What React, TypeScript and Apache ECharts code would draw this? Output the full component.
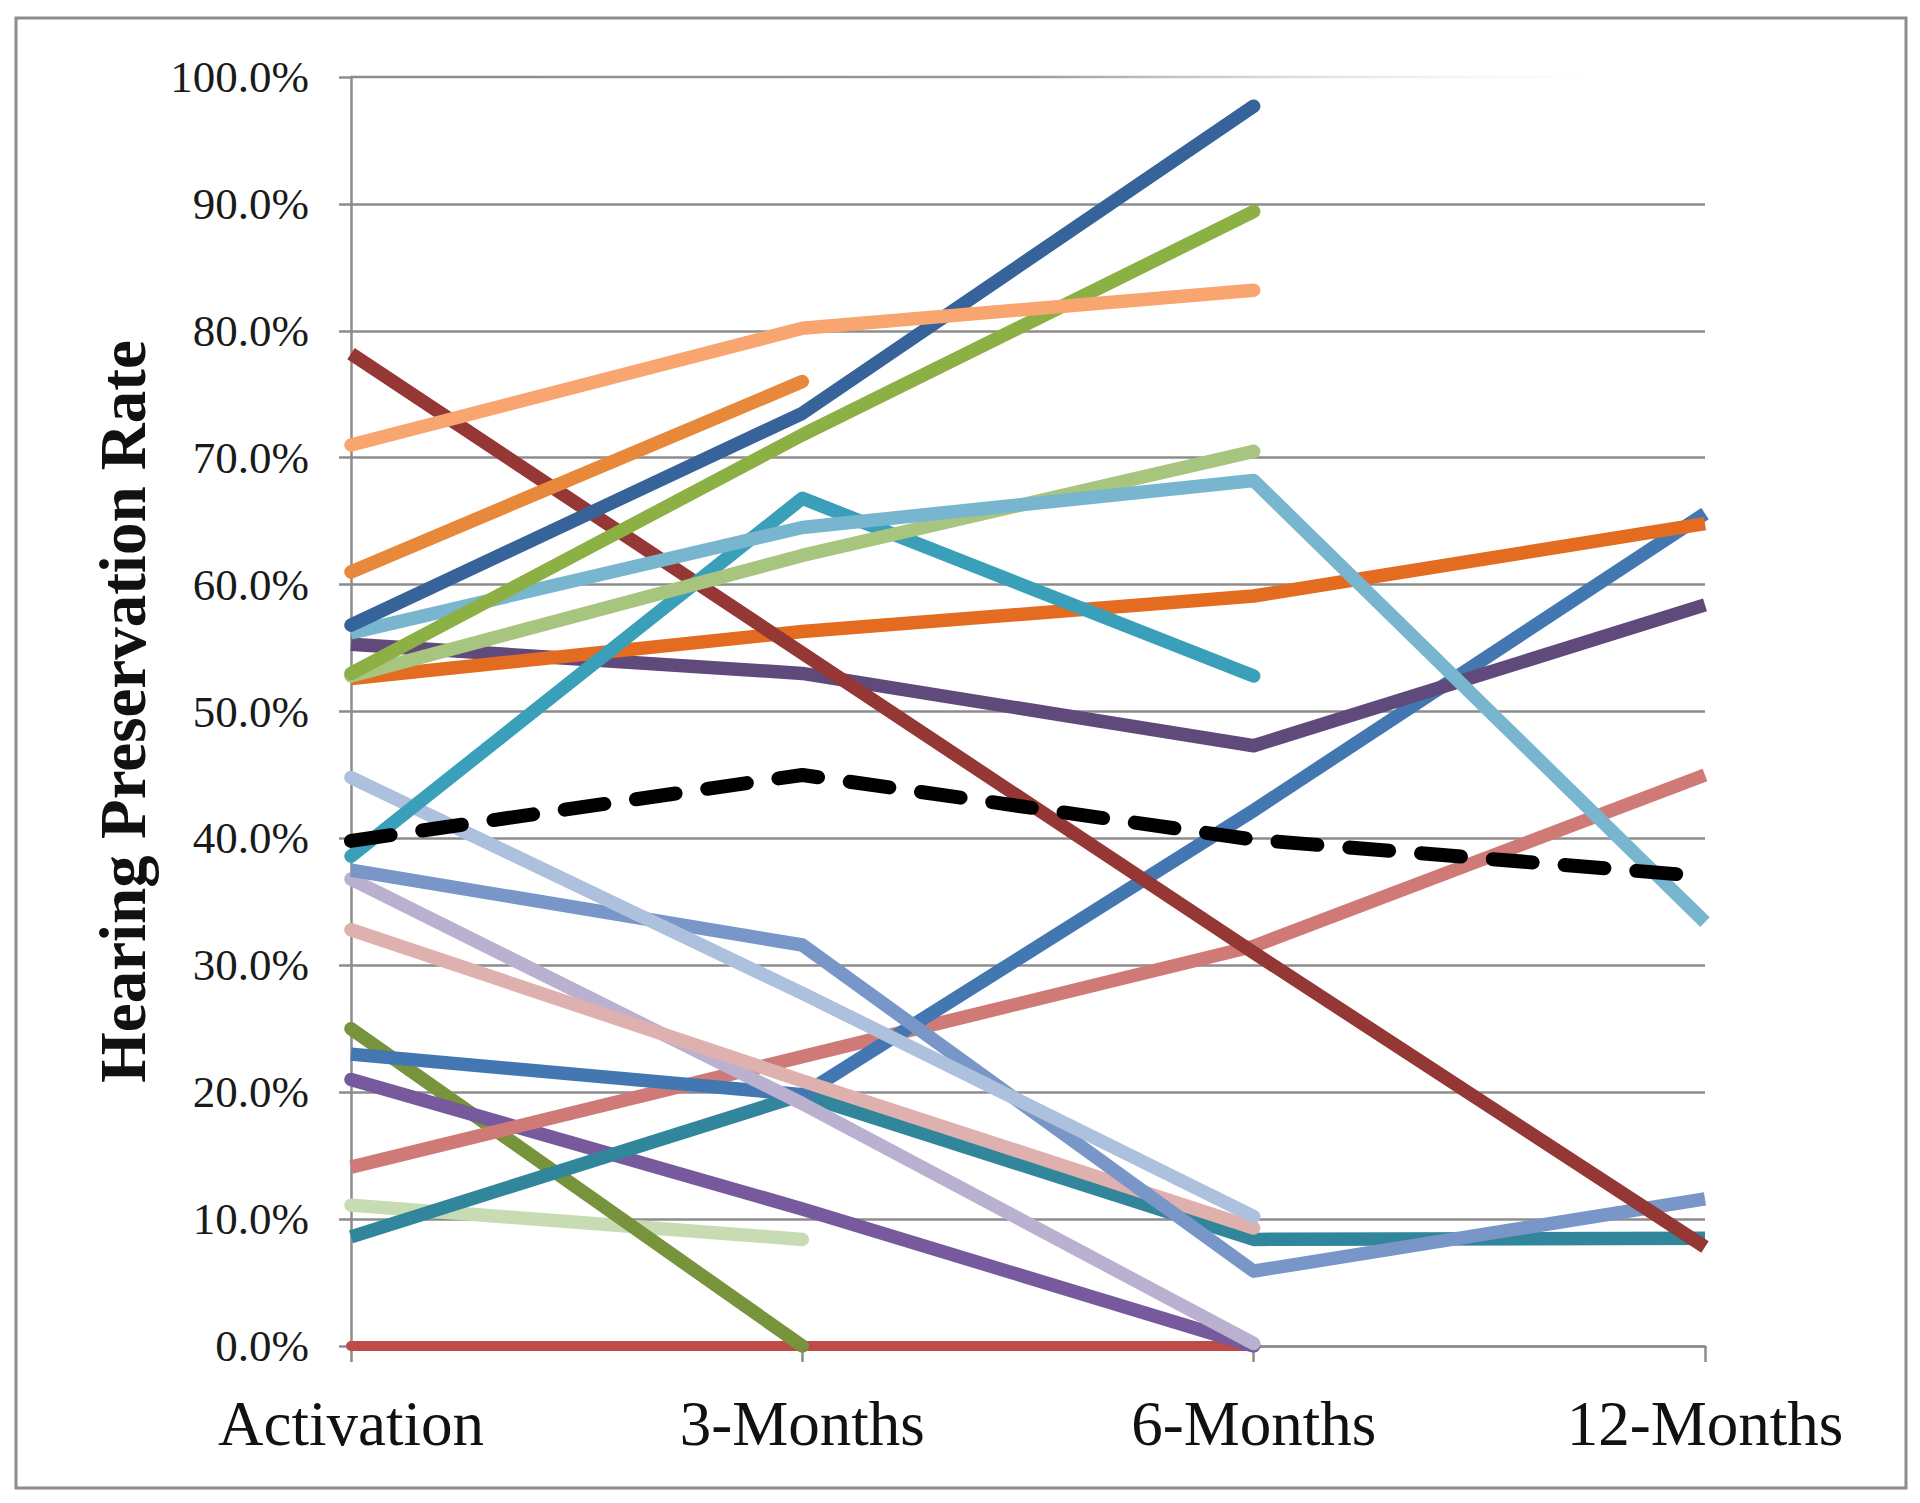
import React, { useEffect, useRef } from 'react';
import * as echarts from 'echarts';

const categories = ['Activation', '3-Months', '6-Months', '12-Months'];
const yTicks = [0, 10, 20, 30, 40, 50, 60, 70, 80, 90, 100];

const darkBlue = [56.8, 73.5, 97.7, null];
const green = [53.0, 71.8, 89.4, null];
const lightOrange = [71.0, 80.2, 83.2, null];
const orange = [61.0, 76.0, null, null];
const darkRed = [78.2, 54.6, 31.0, 7.8];
const turquoise = [38.6, 66.8, 52.8, null];
const skyBlue = [56.2, 64.5, 68.2, 33.4];
const lightGreen = [52.8, 62.3, 70.5, null];
const burntOrange = [52.6, 56.3, 59.1, 64.8];
const plum = [55.3, 53.0, 47.3, 58.4];
const blue = [23.0, 19.8, 42.2, 65.6];
const teal = [8.6, 19.8, 8.4, 8.5];
const periwinkle = [37.5, 31.6, 5.9, 11.6];
const paleBlue = [44.8, 27.8, 10.2, null];
const lilac = [36.8, 19.1, 0.2, null];
const blush = [32.8, 20.9, 9.3, null];
const rose = [14.1, 22.8, 31.5, 45.0];
const violet = [21.0, 10.8, 0, null];
const olive = [25.0, 0, null, null];
const paleGreen = [11.1, 8.4, null, null];
const red = [0, 0, 0, null];
const mean = [39.8, 45.0, 39.9, 37.0];

const seriesDefs = [
  { name: 'S1', data: red, color: '#be4b48' },
  { name: 'S2', data: paleGreen, color: '#c8dcb4' },
  { name: 'S3', data: olive, color: '#77933c' },
  { name: 'S4', data: violet, color: '#77599e' },
  { name: 'S5', data: rose, color: '#d07a78' },
  { name: 'S6', data: teal, color: '#31869b' },
  { name: 'S7', data: blue, color: '#4377b2' },
  { name: 'S8', data: lilac, color: '#b9b1cf' },
  { name: 'S9', data: blush, color: '#dfb1ae' },
  { name: 'S10', data: periwinkle, color: '#7896c8' },
  { name: 'S11', data: paleBlue, color: '#adc0dd' },
  { name: 'S12', data: plum, color: '#604a7b' },
  { name: 'S13', data: burntOrange, color: '#e36c21' },
  { name: 'S14', data: darkRed, color: '#953735' },
  { name: 'S15', data: turquoise, color: '#3a9fb8' },
  { name: 'S16', data: lightGreen, color: '#a7c57f' },
  { name: 'S17', data: skyBlue, color: '#78b6cf' },
  { name: 'S18', data: green, color: '#8db045' },
  { name: 'S19', data: darkBlue, color: '#36639a' },
  { name: 'S20', data: orange, color: '#e8883a' },
  { name: 'S21', data: lightOrange, color: '#f8a56f' },
];

const GRID_L = 351;
const GRID_T = 77;
const GRID_W = 1354;
const GRID_H = 1269;
const AXIS_GRAY = '#8c8c8c';
const FONT = '"Liberation Serif", "DejaVu Serif", serif';

export default function App() {
  const ref = useRef<HTMLDivElement>(null);

  useEffect(() => {
    if (!ref.current) return;
    const chart = echarts.init(ref.current, null, { renderer: 'svg' });

    const series: any[] = seriesDefs.map((s) => ({
      name: s.name,
      type: 'line',
      data: s.data,
      symbol: 'none',
      connectNulls: false,
      lineStyle: {
        color: s.color,
        width: s.data === red ? 10 : 13.5,
        cap: s.data[s.data.length - 1] === null ? 'round' : 'butt',
        join: 'round',
      },
      emphasis: { disabled: true },
    }));
    series.push({
      name: 'Mean',
      type: 'line',
      data: mean,
      symbol: 'none',
      z: 5,
      lineStyle: { color: '#000', width: 14, type: [40, 32], cap: 'round', join: 'round' },
      emphasis: { disabled: true },
    });

    chart.setOption({
      animation: false,
      backgroundColor: '#ffffff',
      grid: { left: GRID_L, top: GRID_T, width: GRID_W, height: GRID_H },
      xAxis: {
        type: 'category',
        data: categories,
        boundaryGap: false,
        axisLine: { show: true, lineStyle: { color: AXIS_GRAY, width: 2.5 } },
        axisTick: { show: true, length: 16, lineStyle: { color: AXIS_GRAY, width: 2.5 } },
        axisLabel: { interval: 0, fontFamily: FONT, fontSize: 63, color: '#111', margin: 46 },
        splitLine: { show: false },
      },
      yAxis: {
        type: 'value',
        min: yTicks[0],
        max: yTicks[yTicks.length - 1],
        interval: 10,
        name: 'Hearing Preservation Rate',
        nameLocation: 'middle',
        nameRotate: 90,
        nameGap: 196,
        nameTextStyle: { fontFamily: FONT, fontWeight: 'bold', fontSize: 65, color: '#111' },
        axisLine: { show: true, lineStyle: { color: AXIS_GRAY, width: 2.5 } },
        axisTick: { show: true, length: 12, lineStyle: { color: AXIS_GRAY, width: 2.5 } },
        axisLabel: {
          formatter: (v: number) => v.toFixed(1) + '%',
          fontFamily: FONT,
          fontSize: 45,
          color: '#1a1a1a',
          margin: 42,
        },
        splitLine: { show: true, showMaxLine: false, lineStyle: { color: AXIS_GRAY, width: 2.5 } },
      },
      graphic: [
        {
          type: 'rect',
          silent: true,
          shape: { x: 16, y: 18, width: 1890, height: 1470 },
          style: { fill: 'none', stroke: AXIS_GRAY, lineWidth: 3 },
        },
        {
          type: 'rect',
          silent: true,
          shape: { x: GRID_L, y: GRID_T - 1.25, width: GRID_W, height: 2.5 },
          style: {
            fill: new echarts.graphic.LinearGradient(
              GRID_L,
              0,
              GRID_L + GRID_W,
              0,
              [
                { offset: 0, color: AXIS_GRAY },
                { offset: 0.5, color: '#999999' },
                { offset: 0.97, color: 'rgba(255,255,255,0)' },
                { offset: 1, color: 'rgba(255,255,255,0)' },
              ],
              true
            ),
          },
        },
      ],
      series,
    });

    return () => chart.dispose();
  }, []);

  return (
    <div
      ref={ref}
      style={{ position: 'fixed', left: 0, top: 0, width: 1920, height: 1503, background: '#fff' }}
    />
  );
}
